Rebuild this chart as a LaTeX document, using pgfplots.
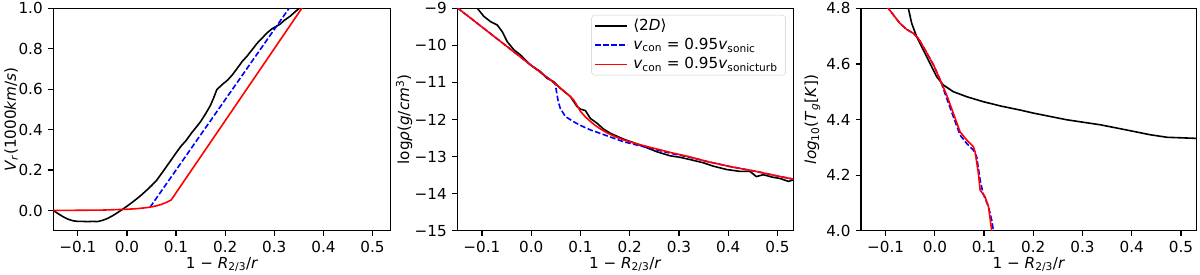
\documentclass[border=0pt]{standalone}
\usepackage{fontspec}
\setmainfont{DejaVu Sans}
\usepackage{pgfplots}
\pgfplotsset{compat=1.18}
\begin{document}
\fontsize{15.2bp}{18bp}\selectfont
\begin{tikzpicture}
\useasboundingbox (0,0) rectangle (1200bp,275bp);
\pgfplotsset{
  every axis/.append style={
    scale only axis, anchor=south west,
    height=222.4bp,
    xmin=-0.15,
    font=\fontsize{15.2bp}{18bp}\selectfont,
    tick align=outside, tick pos=left,
    major tick length=5.3bp,
    tick style={black, line width=1.2bp},
    axis line style={line width=1.2bp},
    xtick={-0.1,0,0.1,0.2,0.3,0.4,0.5},
    xticklabels={−0.1,0.0,0.1,0.2,0.3,0.4,0.5},
    xlabel={1 − \textit{R}\textsubscript{2/3}/\textit{r}},
    xlabel style={at={(axis description cs:0.5,0)}, anchor=base, yshift=-37.3bp},
    clip=true,
  },
  blk/.style={black, line width=1.6bp},
  blu/.style={blue, line width=1.6bp, dash pattern=on 5.6bp off 2.4bp},
  rd/.style={red, line width=1.6bp},
}
% ---------------- panel 1
\begin{axis}[at={(53.3bp,44.3bp)}, width=337.4bp, xmax=0.537,
  ymin=-0.1, ymax=1.0,
  ytick={0,0.2,0.4,0.6,0.8,1.0},
  yticklabels={0.0,0.2,0.4,0.6,0.8,1.0},
  ylabel={\textit{V}\textsubscript{\textit{r}}(1000\textit{km}/\textit{s})},
  ylabel style={at={(axis description cs:-0.125,0.5)}, anchor=center}]
\addplot[blk] coordinates {
(-0.150,0.000) (-0.140,-0.016) (-0.130,-0.031) (-0.120,-0.043) (-0.110,-0.051)
(-0.100,-0.054) (-0.090,-0.054) (-0.080,-0.055) (-0.070,-0.054) (-0.060,-0.055)
(-0.050,-0.049) (-0.040,-0.040) (-0.030,-0.027) (-0.020,-0.012) (-0.010,0.004)
(0.000,0.021) (0.010,0.039) (0.020,0.058) (0.030,0.078) (0.040,0.100)
(0.050,0.123) (0.060,0.148) (0.074,0.195) (0.090,0.250) (0.100,0.285)
(0.110,0.318) (0.120,0.345) (0.132,0.385) (0.142,0.415) (0.150,0.440)
(0.160,0.478) (0.170,0.520) (0.177,0.560) (0.183,0.598) (0.195,0.625)
(0.205,0.645) (0.215,0.672) (0.225,0.705) (0.235,0.738) (0.245,0.765)
(0.258,0.805) (0.265,0.827) (0.275,0.852) (0.285,0.878) (0.295,0.898)
(0.305,0.912) (0.312,0.922) (0.320,0.940) (0.333,0.962) (0.340,0.978)
(0.346,0.990) (0.356,1.010)
};
\addplot[blu] coordinates {(0.047,0.016) (0.330,1.0) (0.335,1.02)};
\addplot[rd] coordinates {
(-0.150,0.000) (-0.100,0.001) (-0.050,0.002) (0.000,0.006) (0.020,0.009)
(0.040,0.014) (0.050,0.018) (0.060,0.023) (0.070,0.030) (0.080,0.040)
(0.090,0.052) (0.356,1.0) (0.36,1.015)
};
\end{axis}
% ---------------- panel 2
\begin{axis}[at={(457.3bp,44.3bp)}, width=336bp, xmax=0.532,
  ymin=-15, ymax=-9,
  ytick={-15,-14,-13,-12,-11,-10,-9},
  yticklabels={−15,−14,−13,−12,−11,−10,−9},
  ylabel={log\textit{ρ}(\textit{g}/\textit{cm}\textsuperscript{3})},
  ylabel style={at={(axis description cs:-0.158,0.5)}, anchor=center},
  legend style={at={(1,1)}, anchor=north east, xshift=-7.5bp, yshift=-6.7bp,
    draw=black!20, rounded corners=3bp, fill=white, fill opacity=0.8,
    text opacity=1, draw opacity=1, inner xsep=3bp, inner ysep=3bp,
    row sep=3.5bp, nodes={inner xsep=5bp, inner ysep=1bp},
    font=\fontsize{15.2bp}{18bp}\selectfont},
  legend cell align=left,
  legend image code/.code={\draw[#1] (0bp,0bp) -- (32bp,0bp);}]
\addplot[blk] coordinates {
(-0.116,-8.93) (-0.1094,-9.0) (-0.096,-9.22) (-0.0825,-9.36) (-0.069,-9.45) (-0.0588,-9.63)
(-0.0487,-9.90) (-0.0352,-10.12) (-0.0217,-10.26) (-0.0015,-10.53) (0.0188,-10.71)
(0.0323,-10.89) (0.0458,-10.98) (0.0593,-11.16) (0.0795,-11.38) (0.093,-11.65)
(0.1,-11.72) (0.11,-11.76) (0.12,-11.97) (0.1335,-12.10) (0.147,-12.26)
(0.1605,-12.37) (0.1875,-12.53) (0.221,-12.69) (0.255,-12.87) (0.282,-12.98)
(0.302,-13.02) (0.3225,-13.08) (0.35,-13.17) (0.37,-13.26) (0.397,-13.35)
(0.424,-13.40) (0.444,-13.40) (0.457,-13.54) (0.471,-13.49) (0.491,-13.56)
(0.505,-13.59) (0.522,-13.67) (0.532,-13.63)
};
\addlegendentry{⟨2\textit{D}⟩}
\addplot[blu] coordinates {
(-0.15,-8.985) (0.0,-10.54) (0.02,-10.74) (0.04,-10.94) (0.049,-11.05)
(0.052,-11.30) (0.055,-11.52) (0.059,-11.70) (0.0694,-11.92) (0.086,-12.06)
(0.10,-12.16) (0.12,-12.28) (0.154,-12.44) (0.1875,-12.60) (0.221,-12.71)
(0.255,-12.82) (0.289,-12.93) (0.3225,-13.02) (0.356,-13.13) (0.40,-13.26)
(0.424,-13.32) (0.46,-13.41) (0.491,-13.50) (0.532,-13.61)
};
\addlegendentry{\textit{v}\textsubscript{con} = 0.95\textit{v}\textsubscript{sonic}}
\addplot[rd] coordinates {
(-0.15,-8.985) (0.0,-10.54) (0.02,-10.74) (0.04,-10.94) (0.05,-11.05)
(0.06,-11.16) (0.07,-11.27) (0.08,-11.39) (0.086,-11.47) (0.093,-11.62)
(0.10,-11.78) (0.11,-11.93) (0.12,-12.05) (0.13,-12.16) (0.14,-12.25)
(0.154,-12.36) (0.17,-12.46) (0.1875,-12.55) (0.20,-12.60) (0.221,-12.68)
(0.25,-12.78) (0.289,-12.91) (0.32,-13.00) (0.356,-13.13) (0.40,-13.26)
(0.424,-13.32) (0.46,-13.41) (0.491,-13.50) (0.532,-13.61)
};
\addlegendentry{\textit{v}\textsubscript{con} = 0.95\textit{v}\textsubscript{sonicturb}}
\end{axis}
% ---------------- panel 3
\begin{axis}[at={(861bp,44.3bp)}, width=335.7bp, xmax=0.532,
  ymin=4.0, ymax=4.8,
  ytick={4.0,4.2,4.4,4.6,4.8},
  yticklabels={4.0,4.2,4.4,4.6,4.8},
  ylabel={\textit{log}\textsubscript{10}(\textit{T}\textsubscript{\textit{g}}[\textit{K}])},
  ylabel style={at={(axis description cs:-0.1445,0.5)}, anchor=center}]
\addplot[blk] coordinates {
(-0.058,4.86) (-0.0539,4.8) (-0.047,4.746) (-0.037,4.698) (-0.0234,4.65)
(-0.0098,4.602) (0.0037,4.554) (0.0173,4.524) (0.0376,4.50) (0.0647,4.482)
(0.0986,4.464) (0.1325,4.449) (0.1732,4.434) (0.2003,4.423) (0.268,4.399)
(0.336,4.381) (0.3705,4.369) (0.4044,4.357) (0.438,4.345) (0.472,4.336)
(0.533,4.332)
};
\addplot[blu] coordinates {
(-0.1,4.807) (-0.0946,4.8) (-0.071,4.746) (-0.0573,4.724) (-0.0437,4.71)
(-0.0336,4.692) (-0.0197,4.65) (-0.0027,4.596) (0.011,4.542) (0.0241,4.476)
(0.0376,4.41) (0.0512,4.344) (0.0647,4.314) (0.0783,4.29) (0.085,4.266)
(0.092,4.182) (0.098,4.134) (0.109,4.086) (0.1156,4.038) (0.119,4.0) (0.121,3.98)
};
\addplot[rd] coordinates {
(-0.1,4.807) (-0.0946,4.8) (-0.071,4.746) (-0.0573,4.724) (-0.0437,4.71)
(-0.0336,4.692) (-0.0197,4.65) (-0.0027,4.596) (0.011,4.542) (0.0241,4.488)
(0.0376,4.422) (0.0512,4.356) (0.0647,4.326) (0.0783,4.302) (0.0817,4.284)
(0.0885,4.206) (0.092,4.146) (0.102,4.122) (0.109,4.086) (0.1156,4.0) (0.117,3.98)
};
\end{axis}
\end{tikzpicture}
\end{document}
